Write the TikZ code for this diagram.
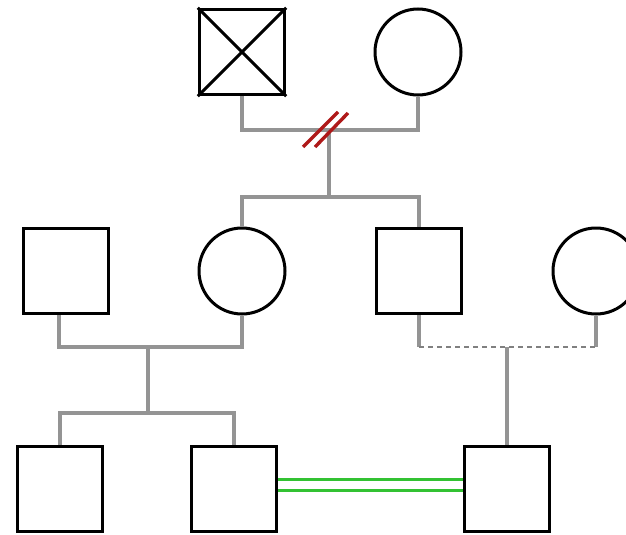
\documentclass[tikz,border=0pt]{standalone}
\begin{document}
\begin{tikzpicture}[x=1pt,y=-1pt,
  male/.style={draw=black,line width=3.4pt,fill=white,rectangle,minimum size=85pt,inner sep=0pt},
  female/.style={draw=black,line width=3pt,fill=white,circle,minimum size=86pt,inner sep=0pt},
  rel/.style={draw=black!42,line width=3.4pt},
  slashred/.style={draw=red!65!black!90,line width=3.4pt},
  twin/.style={draw=green!70!black!80,line width=3.2pt}]
\useasboundingbox (0,0) rectangle (626,535);
\clip (0,0) rectangle (626,535);
% coordinates
\coordinate (mA) at (329,130);
\coordinate (sA) at (329,197);
\coordinate (mB) at (148,347);
\coordinate (sB) at (148,413);
\coordinate (mC) at (507,347);
% generation I
\node[male] (gf) at (242,52) {};
\draw[line width=3pt] (gf.north west) -- (gf.south east) (gf.south west) -- (gf.north east);
\node[female] (gm) at (418,52) {};
% generation II
\node[male] (fa) at (66,271) {};
\node[female] (mo) at (242,271) {};
\node[male] (un) at (419,271) {};
\node[female] (wi) at (596,271) {};
% generation III
\node[male] (c1) at (60,489) {};
\node[male] (c2) at (234,489) {};
\node[male] (c3) at (507,489) {};
% connectors
\draw[rel] (gf.south) |- (mA) -| (gm.south);
\draw[rel] (mA) -- (sA);
\draw[rel] (mo.north) |- (sA) -| (un.north);
\draw[slashred] ([shift={(-26,17)}]mA) -- ([shift={(9,-18)}]mA);
\draw[slashred] ([shift={(-14,17)}]mA) -- ([shift={(19,-17)}]mA);
\draw[rel] ([xshift=-7pt]fa.south) |- (mB) -| (mo.south);
\draw[rel] (mB) -- (sB);
\draw[rel] (c1.north) |- (sB) -| (c2.north);
\draw[rel] (un.south) -- (un.south |- mC);
\draw[rel] (wi.south) -- (wi.south |- mC);
\draw[rel,draw=black!50,line width=2.8pt,dash pattern=on 5pt off 4pt] (un.south |- mC) -- (wi.south |- mC);
\draw[rel] (mC) -- (c3.north);
\draw[twin] ([yshift=-1.5pt]c2.east) -- ([yshift=-1.5pt]c3.west);
\draw[twin] ([yshift=9.5pt]c2.east) -- ([yshift=9.5pt]c3.west);
\end{tikzpicture}
\end{document}
